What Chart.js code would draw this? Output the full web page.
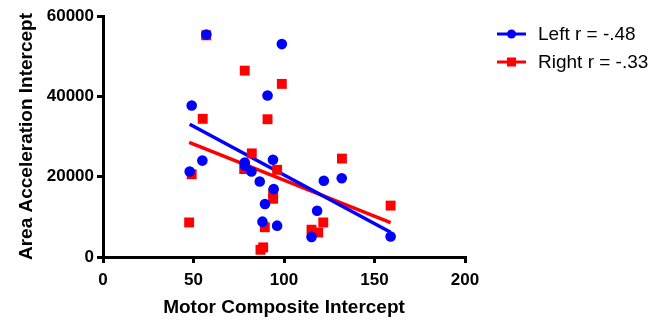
<!DOCTYPE html>
<html>
<head>
<meta charset="utf-8">
<script src="https://cdn.jsdelivr.net/npm/chart.js@4/dist/chart.umd.min.js"></script>
<style>
  html, body { margin: 0; padding: 0; background: #fff; }
  #wrap { width: 665px; height: 322px; position: relative; }
</style>
</head>
<body>
<div id="wrap"><canvas id="c" width="665" height="322"></canvas></div>
<script>
// ---- Data ----
const leftX  = [57.1, 98.8, 90.9, 49.0, 47.9, 54.9, 78.3, 78.5, 82.0, 93.9, 86.6, 94.3, 89.5, 88.1, 96.2, 118.3, 115.2, 122.0, 131.9, 158.9];
const leftY  = [55400, 53000, 40200, 37700, 21300, 24000, 23500, 22700, 21300, 24200, 18800, 16900, 13200, 8800, 7800, 11500, 5000, 19000, 19600, 5100];
const rightX = [57.0, 78.3, 98.8, 90.9, 55.1, 49.0, 47.6, 82.2, 78.0, 96.2, 94.0, 94.0, 89.4, 87.0, 88.5, 132.0, 158.9, 115.2, 118.9, 121.7];
const rightY = [55200, 46400, 43100, 34300, 34400, 20600, 8600, 25800, 21900, 21700, 15800, 14500, 7400, 1800, 2400, 24500, 12800, 6800, 6100, 8600];
const seriesLabels = ['Left r = -.48', 'Right r = -.33'];
const xTicks = [0, 50, 100, 150, 200];
const yTicks = [0, 20000, 40000, 60000];
const xTitle = 'Motor Composite Intercept';
const yTitle = 'Area Acceleration Intercept';

const BLUE = '#0000ff';
const RED = '#ff0000';
const FONT = "'Liberation Sans', Arial, sans-serif";

function toPoints(xs, ys) { return xs.map((x, i) => ({ x: x, y: ys[i] })); }
function fitLine(xs, ys) {
  const n = xs.length;
  const mx = xs.reduce((a, b) => a + b, 0) / n;
  const my = ys.reduce((a, b) => a + b, 0) / n;
  let sxy = 0, sxx = 0;
  for (let i = 0; i < n; i++) { sxy += (xs[i] - mx) * (ys[i] - my); sxx += (xs[i] - mx) ** 2; }
  const b = sxy / sxx, a = my - b * mx;
  const x0 = Math.min(...xs), x1 = Math.max(...xs);
  return [{ x: x0, y: a + b * x0 }, { x: x1, y: a + b * x1 }];
}

const legendPlugin = {
  id: 'customLegend',
  afterDraw(chart) {
    const ctx = chart.ctx;
    const items = [
      { label: seriesLabels[0], color: BLUE, style: 'circle', y: 34 },
      { label: seriesLabels[1], color: RED, style: 'rect', y: 62 }
    ];
    ctx.save();
    items.forEach(it => {
      ctx.strokeStyle = it.color;
      ctx.lineWidth = 3;
      ctx.beginPath();
      ctx.moveTo(497, it.y);
      ctx.lineTo(526, it.y);
      ctx.stroke();
      ctx.fillStyle = it.color;
      if (it.style === 'circle') {
        ctx.beginPath(); ctx.arc(511.5, it.y, 4.5, 0, Math.PI * 2); ctx.fill();
      } else {
        ctx.fillRect(507, it.y - 4.5, 9, 9);
      }
      ctx.fillStyle = '#000';
      ctx.font = '19px ' + FONT;
      ctx.textBaseline = 'middle';
      ctx.textAlign = 'left';
      ctx.fillText(it.label, 538, it.y + 1);
    });
    ctx.restore();
  }
};

const tickFont = { family: FONT, size: 17, weight: 'bold' };
const titleFont = { family: FONT, size: 19, weight: 'bold' };

new Chart(document.getElementById('c'), {
  type: 'scatter',
  data: {
    datasets: [
      { label: seriesLabels[0], data: toPoints(leftX, leftY), backgroundColor: BLUE, borderColor: BLUE,
        pointStyle: 'circle', pointRadius: 5.3, pointBorderWidth: 0, order: 0 },
      { label: seriesLabels[1], data: toPoints(rightX, rightY), backgroundColor: RED, borderColor: RED,
        pointStyle: 'rect', pointRadius: 7, pointBorderWidth: 0, order: 1 },
      { type: 'line', label: 'fitL', data: fitLine(leftX, leftY), borderColor: BLUE, borderWidth: 3.5,
        pointRadius: 0, fill: false, order: 2 },
      { type: 'line', label: 'fitR', data: fitLine(rightX, rightY), borderColor: RED, borderWidth: 3.5,
        pointRadius: 0, fill: false, order: 3 }
    ]
  },
  options: {
    responsive: false,
    animation: false,
    layout: { padding: { top: 16, right: 200, bottom: 0, left: 0 } },
    plugins: { legend: { display: false }, tooltip: { enabled: false } },
    scales: {
      x: {
        type: 'linear', min: 0, max: 200,
        afterBuildTicks(s) { s.ticks = xTicks.map(v => ({ value: v })); },
        afterFit(s) { s.height = 65; },
        border: { display: true, width: 3, color: '#000' },
        grid: { display: true, drawOnChartArea: false, drawTicks: true, tickLength: 6, tickWidth: 3, tickColor: '#000', color: '#000', lineWidth: 3 },
        ticks: { color: '#000', font: tickFont, padding: 7, maxRotation: 0 },
        title: { display: true, text: xTitle, color: '#000', font: titleFont, padding: { top: 0, bottom: 3 } }
      },
      y: {
        type: 'linear', min: 0, max: 60000,
        afterBuildTicks(s) { s.ticks = yTicks.map(v => ({ value: v })); },
        afterFit(s) { s.width = 103; },
        border: { display: true, width: 3, color: '#000' },
        grid: { display: true, drawOnChartArea: false, drawTicks: true, tickLength: 6, tickWidth: 3, tickColor: '#000', color: '#000', lineWidth: 3 },
        ticks: { color: '#000', font: tickFont, padding: 3, callback: v => String(v) },
        title: { display: true, text: yTitle, color: '#000', font: titleFont, padding: { top: 15, bottom: 0 } }
      }
    }
  },
  plugins: [legendPlugin]
});
</script>
</body>
</html>
